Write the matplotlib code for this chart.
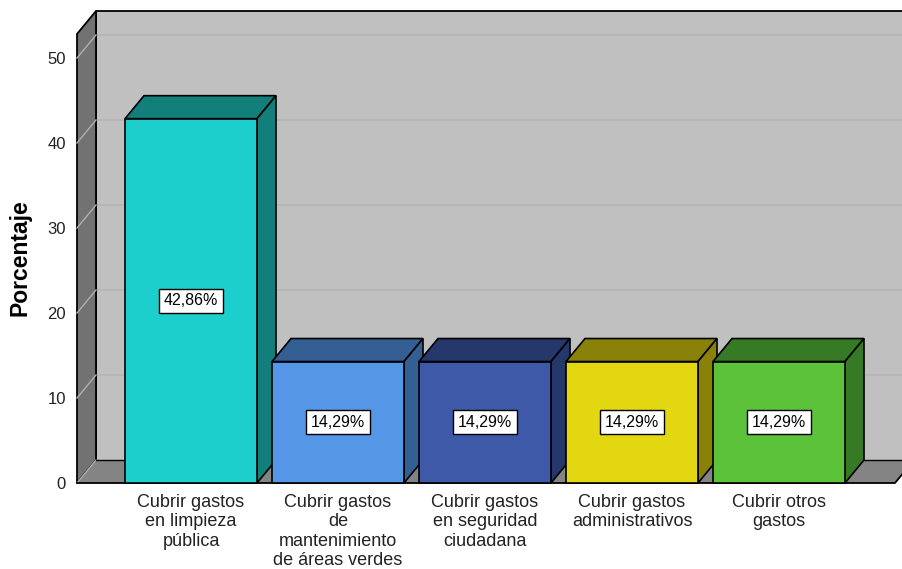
import matplotlib.pyplot as plt
from matplotlib.patches import Polygon, Rectangle

# Datos
categorias = ['Cubrir gastos\nen limpieza\npública',
              'Cubrir gastos\nde\nmantenimiento\nde áreas verdes',
              'Cubrir gastos\nen seguridad\nciudadana',
              'Cubrir gastos\nadministrativos',
              'Cubrir otros\ngastos']
porcentajes = [42.86, 14.29, 14.29, 14.29, 14.29]
etiquetas = ['42,86%', '14,29%', '14,29%', '14,29%', '14,29%']
colores = ['#1ccfcc', '#5596e6', '#3f59a9', '#e3d712', '#5bc23a']
colores_osc = ['#127f7b', '#345f94', '#26386b', '#8a8208', '#377a25']
yticks = [0, 10, 20, 30, 40, 50]

plt.rcParams['font.family'] = ['Liberation Sans', 'DejaVu Sans']

W, H = 902, 569
fig = plt.figure(figsize=(W / 100, H / 100), dpi=100)
# plano frontal del grafico en pixeles
px_l, px_r, px_b, px_t = 77, 895, 483, 34
ax = fig.add_axes([px_l / W, (H - px_b) / H, (px_r - px_l) / W, (px_b - px_t) / H])

escala = 8.5        # px por unidad
paso = 147          # px entre barras
x0 = 191            # centro de la primera barra
xl = (px_l - x0) / paso
xr = (px_r - x0) / paso
ymax = (px_b - px_t) / escala
DX = 19 / paso
DY = 23 / escala
ancho = 132 / paso

ax.set_xlim(xl, xr)
ax.set_ylim(0, ymax)
ax.set_facecolor('none')
for s in ax.spines.values():
    s.set_visible(False)

# Pared del fondo
ax.add_patch(Rectangle((xl + DX, DY), xr - xl + 1, ymax, facecolor='#c0c0c0',
                       edgecolor='none', clip_on=False, zorder=0))
for v in yticks[1:]:
    ax.plot([xl + DX, xr + 1], [v + DY, v + DY], color='#b5b5b5', lw=1.2,
            clip_on=False, zorder=0.5)
ax.plot([xl + DX, xl + DX, xr + 1], [DY, ymax + DY, ymax + DY], color='black',
        lw=1.3, clip_on=False, zorder=0.6)

# Pared izquierda
ax.add_patch(Polygon([(xl, 0), (xl + DX, DY), (xl + DX, ymax + DY), (xl, ymax)],
                     closed=True, facecolor='#727272', edgecolor='black', lw=1.3,
                     clip_on=False, zorder=1))
for v in yticks:
    ax.plot([xl, xl + DX], [v, v + DY], color='#b0b0b0', lw=1, clip_on=False, zorder=1.1)

# Piso
ax.add_patch(Polygon([(xl, 0), (xr, 0), (xr + DX, DY), (xl + DX, DY)], closed=True,
                     facecolor='#848484', edgecolor='none', clip_on=False, zorder=1))
ax.plot([xl + DX, xr + DX], [DY, DY], color='black', lw=1, clip_on=False, zorder=1.2)
ax.plot([xl, xr, xr + DX], [0, 0, DY], color='black', lw=1.3, clip_on=False, zorder=1.2)

# Barras 3D
for i, (v, c, co, et) in enumerate(zip(porcentajes, colores, colores_osc, etiquetas)):
    a = i - ancho / 2
    b = i + ancho / 2
    ax.add_patch(Polygon([(a, v), (a + DX, v + DY), (b + DX, v + DY), (b, v)], closed=True,
                         facecolor=co, edgecolor='black', lw=1.2, clip_on=False, zorder=3))
    ax.add_patch(Polygon([(b, 0), (b + DX, DY), (b + DX, v + DY), (b, v)], closed=True,
                         facecolor=co, edgecolor='black', lw=1.2, clip_on=False, zorder=3))
    ax.add_patch(Rectangle((a, 0), ancho, v, facecolor=c, edgecolor='black', lw=1.2,
                           clip_on=False, zorder=4))
    ax.text(i, v / 2, et, ha='center', va='center', fontsize=11.5, zorder=5,
            bbox=dict(boxstyle='square,pad=0.28', facecolor='white', edgecolor='black', lw=1))

ax.set_xticks(range(len(categorias)))
ax.set_xticklabels(categorias, fontsize=13, linespacing=1.18, va='top')
ax.set_yticks(yticks)
ax.set_yticklabels([str(t) for t in yticks], fontsize=12)
ax.tick_params(axis='both', length=0, colors='#222222')
ax.tick_params(axis='y', pad=8)
ax.tick_params(axis='x', pad=8)
fig.text(20 / W, 1 - 258 / H, 'Porcentaje', rotation=90, ha='center', va='center',
         fontsize=16.5, fontweight='bold')

fig.savefig('out.png', dpi=100)
